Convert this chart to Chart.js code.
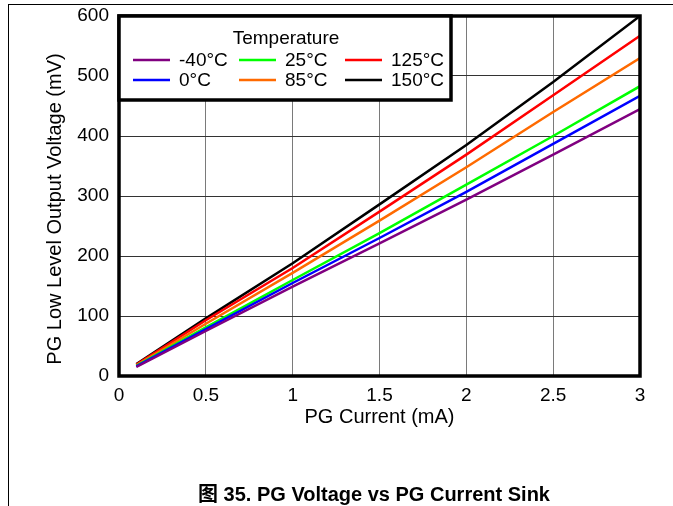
<!DOCTYPE html>
<html>
<head>
<meta charset="utf-8">
<script src="https://cdn.jsdelivr.net/npm/chart.js@4.4.0/dist/chart.umd.min.js"></script>
<style>
  body { margin: 0; background: #fff; }
  #wrap { position: relative; width: 673px; height: 506px; overflow: hidden; }
  #frame { position: absolute; left: 8px; top: 4px; width: 700px; height: 600px;
           border-top: 1px solid #000; border-left: 1px solid #000; }
  #chart { position: absolute; left: 0; top: 0; }
  #caption { position: absolute; left: 0; width: 748px; top: 478px; text-align: center;
             font: bold 20px "Liberation Sans", "Noto Sans CJK SC", sans-serif; color: #000; }
</style>
</head>
<body>
<div id="wrap">
  <div id="frame"></div>
  <canvas id="chart" width="673" height="506"></canvas>
  <div id="caption">图 35. PG Voltage vs PG Current Sink</div>
</div>
<script>
// PG current sink (mA)
const current = [0.1, 0.5, 1, 1.5, 2, 2.5, 3];

// PG low level output voltage (mV) at each temperature
const tempLabels = ['-40°C', '0°C', '25°C', '85°C', '125°C', '150°C'];
const vMinus40 = [15, 75, 149, 221, 294, 369, 445];
const v0 = [16, 78, 155, 230, 307, 387, 467];
const v25 = [17, 81, 160, 238, 319, 400, 483];
const v85 = [18, 87, 172, 259, 348, 440, 530];
const v125 = [19, 93, 180, 274, 369, 468, 567];
const v150 = [20, 96, 188, 286, 385, 490, 600];

const xTicks = [0, 0.5, 1, 1.5, 2, 2.5, 3];
const yTicks = [0, 100, 200, 300, 400, 500, 600];
const yTitle = 'PG Low Level Output Voltage (mV)';

const colors = ['#800080', '#0000ff', '#00ff00', '#ff6a00', '#ff0000', '#000000'];
const series = [vMinus40, v0, v25, v85, v125, v150];

const FONT = '"Liberation Sans", Arial, sans-serif';

const datasets = series.map((vals, i) => ({
    label: tempLabels[i],
    data: vals.map((v, j) => ({ x: current[j], y: v })),
    borderColor: colors[i],
    backgroundColor: colors[i],
    borderWidth: 2.5,
    pointRadius: 0,
    tension: 0
}));

// Thick box around the plot area
const frameBox = {
    id: 'frameBox',
    afterDatasetsDraw(chart) {
        const { ctx, chartArea: a } = chart;
        ctx.save();
        ctx.strokeStyle = '#000';
        ctx.lineWidth = 3.5;
        ctx.strokeRect(a.left, a.top, a.right - a.left, a.bottom - a.top);
        ctx.restore();
    }
};

// y title sits a bit below the axis middle in the original
const yTitleText = {
    id: 'yTitleText',
    afterDraw(chart) {
        const { ctx, chartArea: a } = chart;
        ctx.save();
        ctx.translate(55, (a.top + a.bottom) / 2 + 13);
        ctx.rotate(-Math.PI / 2);
        ctx.fillStyle = '#000';
        ctx.font = '20px ' + FONT;
        ctx.textAlign = 'center';
        ctx.textBaseline = 'middle';
        ctx.fillText(yTitle, 0, 0);
        ctx.restore();
    }
};

// Legend drawn inside the plot, columns filled top to bottom
const insideLegend = {
    id: 'insideLegend',
    afterDraw(chart) {
        const { ctx, chartArea: a } = chart;
        const x0 = a.left, y0 = a.top, w = 332, h = 84;
        ctx.save();
        ctx.fillStyle = '#fff';
        ctx.fillRect(x0, y0, w, h);
        ctx.strokeStyle = '#000';
        ctx.lineWidth = 3.5;
        ctx.strokeRect(x0, y0, w, h);
        ctx.fillStyle = '#000';
        ctx.font = '19px ' + FONT;
        ctx.textBaseline = 'middle';
        ctx.textAlign = 'center';
        ctx.fillText('Temperature', x0 + 167, y0 + 23);
        ctx.textAlign = 'left';
        chart.data.datasets.forEach((ds, i) => {
            const col = Math.floor(i / 2), row = i % 2;
            const lx = x0 + 14 + col * 106;
            const ly = y0 + 44 + row * 20;
            ctx.strokeStyle = ds.borderColor;
            ctx.lineWidth = 2.5;
            ctx.beginPath();
            ctx.moveTo(lx, ly);
            ctx.lineTo(lx + 37, ly);
            ctx.stroke();
            ctx.fillStyle = '#000';
            ctx.fillText(ds.label, lx + 46, ly + 1);
        });
        ctx.restore();
    }
};

new Chart(document.getElementById('chart'), {
    type: 'line',
    data: { datasets },
    options: {
        responsive: false,
        animation: false,
        layout: { padding: { left: 43, right: 33, top: 16, bottom: 70 } },
        plugins: { legend: { display: false }, tooltip: { enabled: false } },
        scales: {
            x: {
                type: 'linear',
                min: 0,
                max: 3,
                afterBuildTicks: s => { s.ticks = xTicks.map(v => ({ value: v })); },
                afterFit: s => { s.height = 60; s.paddingLeft = 0; s.paddingRight = 0; },
                ticks: { color: '#000', font: { family: FONT, size: 19 }, padding: 8,
                         callback: v => String(v) },
                grid: { color: '#7a7a7a', lineWidth: 1, drawTicks: false },
                border: { display: false },
                title: { display: true, text: 'PG Current (mA)', color: '#000',
                         font: { family: FONT, size: 20 }, padding: { top: 0, bottom: 7 } }
            },
            y: {
                min: 0,
                max: 600,
                afterBuildTicks: s => { s.ticks = yTicks.map(v => ({ value: v })); },
                afterFit: s => { s.width = 76; s.paddingTop = 0; s.paddingBottom = 0; },
                ticks: { color: '#000', font: { family: FONT, size: 19 }, padding: 10 },
                grid: { color: '#333', lineWidth: 1, drawTicks: false },
                border: { display: false },
                title: { display: false }
            }
        }
    },
    plugins: [frameBox, insideLegend, yTitleText]
});
</script>
</body>
</html>
